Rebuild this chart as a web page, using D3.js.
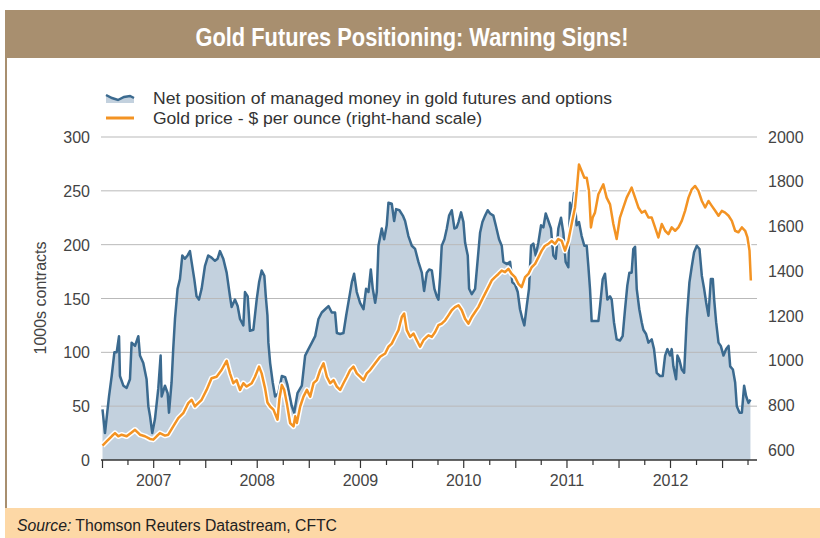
<!DOCTYPE html>
<html>
<head>
<meta charset="utf-8">
<script src="https://cdn.jsdelivr.net/npm/d3@7"></script>
<style>
  body { margin: 0; background: #fff; }
  svg { display: block; font-family: "Liberation Sans", Arial, sans-serif; }
</style>
</head>
<body>
<div id="chart"></div>
<script>
// net position of managed money, 1000s contracts (decimal year, value)
const netYears = [
  2007.000, 2007.024, 2007.063, 2007.089, 2007.115, 2007.137, 2007.160, 2007.169, 2007.202, 2007.234,
  2007.266, 2007.282, 2007.315, 2007.347, 2007.363, 2007.395, 2007.427, 2007.444, 2007.460, 2007.482,
  2007.508, 2007.540, 2007.563, 2007.573, 2007.605, 2007.631, 2007.644, 2007.669, 2007.685, 2007.702,
  2007.727, 2007.750, 2007.773, 2007.798, 2007.824, 2007.847, 2007.863, 2007.889, 2007.911, 2007.934,
  2007.960, 2007.992, 2008.024, 2008.056, 2008.089, 2008.115, 2008.137, 2008.169, 2008.202, 2008.234,
  2008.250, 2008.282, 2008.308, 2008.331, 2008.363, 2008.379, 2008.405, 2008.427, 2008.460, 2008.492,
  2008.515, 2008.540, 2008.566, 2008.580, 2008.596, 2008.605, 2008.622, 2008.647, 2008.670, 2008.702,
  2008.735, 2008.767, 2008.789, 2008.831, 2008.854, 2008.886, 2008.928, 2008.960, 2008.992, 2009.025,
  2009.057, 2009.089, 2009.121, 2009.154, 2009.186, 2009.218, 2009.250, 2009.267, 2009.299, 2009.331,
  2009.357, 2009.389, 2009.412, 2009.434, 2009.460, 2009.492, 2009.525, 2009.550, 2009.573, 2009.596,
  2009.615, 2009.638, 2009.654, 2009.670, 2009.702, 2009.725, 2009.750, 2009.767, 2009.799, 2009.822,
  2009.841, 2009.873, 2009.906, 2009.928, 2009.960, 2009.993, 2010.025, 2010.057, 2010.090, 2010.112,
  2010.138, 2010.161, 2010.187, 2010.212, 2010.235, 2010.251, 2010.267, 2010.283, 2010.309, 2010.332,
  2010.354, 2010.380, 2010.406, 2010.428, 2010.445, 2010.470, 2010.493, 2010.509, 2010.535, 2010.548,
  2010.574, 2010.606, 2010.632, 2010.654, 2010.677, 2010.703, 2010.728, 2010.751, 2010.783, 2010.806,
  2010.838, 2010.864, 2010.880, 2010.912, 2010.945, 2010.967, 2010.993, 2011.019, 2011.041, 2011.064,
  2011.083, 2011.106, 2011.128, 2011.148, 2011.170, 2011.193, 2011.219, 2011.245, 2011.267, 2011.290,
  2011.316, 2011.341, 2011.364, 2011.387, 2011.412, 2011.438, 2011.461, 2011.483, 2011.509, 2011.525,
  2011.541, 2011.564, 2011.590, 2011.612, 2011.638, 2011.664, 2011.687, 2011.703, 2011.719, 2011.735,
  2011.767, 2011.800, 2011.816, 2011.842, 2011.864, 2011.887, 2011.913, 2011.929, 2011.951, 2011.977,
  2012.009, 2012.035, 2012.058, 2012.080, 2012.100, 2012.122, 2012.138, 2012.155, 2012.171, 2012.196,
  2012.219, 2012.235, 2012.261, 2012.284, 2012.316, 2012.338, 2012.364, 2012.396, 2012.422, 2012.445,
  2012.467, 2012.493, 2012.509, 2012.525, 2012.551, 2012.564, 2012.583, 2012.606, 2012.629, 2012.654,
  2012.680, 2012.703, 2012.725, 2012.751, 2012.777, 2012.800, 2012.822, 2012.842, 2012.864, 2012.887,
  2012.906, 2012.919, 2012.938, 2012.961, 2012.983, 2013.009, 2013.035, 2013.058, 2013.074, 2013.100,
  2013.122, 2013.138, 2013.164, 2013.187, 2013.209, 2013.229, 2013.251, 2013.270
];
const netValues = [
  47, 25, 59, 78, 100, 100, 115, 78, 69, 67,
  75, 109, 106, 115, 97, 90, 75, 50, 41, 25,
  38, 66, 97, 59, 69, 62, 44, 72, 103, 131,
  159, 168, 190, 187, 190, 194, 184, 168, 152, 149,
  159, 180, 190, 188, 185, 187, 194, 187, 174, 152,
  142, 149, 143, 131, 125, 156, 152, 120, 121, 149,
  165, 176, 171, 152, 134, 109, 90, 72, 59, 62,
  78, 77, 70, 50, 44, 62, 69, 97, 103, 109,
  115, 131, 137, 140, 143, 137, 137, 118, 117, 118,
  134, 152, 165, 173, 156, 146, 140, 159, 156, 177,
  159, 146, 156, 199, 215, 205, 218, 239, 238, 222,
  233, 232, 227, 222, 208, 199, 196, 184, 174, 157,
  174, 177, 176, 159, 152, 149, 170, 199, 205, 215,
  227, 232, 215, 216, 221, 230, 221, 202, 190, 159,
  154, 159, 187, 211, 221, 227, 232, 229, 227, 218,
  205, 199, 184, 182, 184, 165, 163, 156, 140, 131,
  125, 143, 159, 199, 201, 190, 202, 218, 216, 229,
  222, 215, 190, 187, 215, 225, 211, 184, 179, 239,
  227, 248, 218, 221, 208, 199, 199, 180, 159, 129,
  129, 129, 143, 168, 173, 149, 152, 149, 128, 112,
  111, 115, 140, 162, 174, 174, 196, 198, 159, 140,
  128, 121, 117, 109, 112, 103, 81, 78, 78, 97,
  103, 97, 103, 87, 75, 97, 93, 84, 81, 131,
  165, 180, 193, 199, 196, 171, 159, 146, 134, 168,
  168, 149, 128, 109, 106, 97, 103, 106, 87, 84,
  72, 50, 44, 44, 69, 59, 53, 56
];

// gold price, $ per ounce (decimal year, value)
const goldYears = [
  2007.000, 2007.040, 2007.089, 2007.121, 2007.153, 2007.185, 2007.234, 2007.282, 2007.315, 2007.363,
  2007.411, 2007.460, 2007.492, 2007.524, 2007.556, 2007.605, 2007.637, 2007.685, 2007.734, 2007.782,
  2007.831, 2007.863, 2007.895, 2007.927, 2007.960, 2008.008, 2008.056, 2008.105, 2008.153, 2008.202,
  2008.234, 2008.266, 2008.298, 2008.331, 2008.363, 2008.395, 2008.444, 2008.476, 2008.515, 2008.540,
  2008.573, 2008.596, 2008.622, 2008.654, 2008.680, 2008.693, 2008.712, 2008.735, 2008.757, 2008.783,
  2008.815, 2008.848, 2008.864, 2008.880, 2008.912, 2008.944, 2008.977, 2009.009, 2009.041, 2009.073,
  2009.106, 2009.138, 2009.170, 2009.202, 2009.235, 2009.267, 2009.299, 2009.331, 2009.364, 2009.396,
  2009.428, 2009.460, 2009.493, 2009.525, 2009.557, 2009.589, 2009.638, 2009.686, 2009.735, 2009.767,
  2009.799, 2009.831, 2009.864, 2009.896, 2009.919, 2009.944, 2009.977, 2010.009, 2010.041, 2010.073,
  2010.106, 2010.138, 2010.154, 2010.187, 2010.219, 2010.251, 2010.283, 2010.316, 2010.348, 2010.380,
  2010.412, 2010.445, 2010.477, 2010.509, 2010.541, 2010.574, 2010.606, 2010.638, 2010.670, 2010.703,
  2010.735, 2010.767, 2010.799, 2010.832, 2010.864, 2010.896, 2010.928, 2010.961, 2010.993, 2011.025,
  2011.057, 2011.090, 2011.122, 2011.154, 2011.187, 2011.219, 2011.251, 2011.283, 2011.316, 2011.348,
  2011.380, 2011.412, 2011.445, 2011.477, 2011.509, 2011.541, 2011.574, 2011.590, 2011.612, 2011.638,
  2011.664, 2011.687, 2011.709, 2011.728, 2011.745, 2011.767, 2011.800, 2011.848, 2011.880, 2011.913,
  2011.945, 2011.977, 2012.009, 2012.042, 2012.074, 2012.122, 2012.155, 2012.187, 2012.219, 2012.251,
  2012.284, 2012.316, 2012.348, 2012.380, 2012.413, 2012.445, 2012.477, 2012.509, 2012.542, 2012.574,
  2012.606, 2012.638, 2012.671, 2012.703, 2012.735, 2012.767, 2012.800, 2012.832, 2012.864, 2012.896,
  2012.929, 2012.961, 2012.993, 2013.025, 2013.058, 2013.090, 2013.122, 2013.154, 2013.187, 2013.219,
  2013.241, 2013.261, 2013.274
];
const goldPrices = [
  619, 638, 661, 675, 661, 668, 661, 678, 690, 668,
  661, 649, 646, 661, 675, 664, 668, 705, 742, 764,
  809, 824, 794, 809, 824, 868, 920, 927, 957, 998,
  942, 898, 912, 868, 898, 883, 898, 927, 972, 942,
  875, 812, 794, 780, 750, 735, 830, 890, 870, 809,
  720, 705, 750, 720, 794, 838, 868, 838, 898, 912,
  957, 987, 927, 898, 912, 883, 868, 898, 927, 957,
  972, 942, 927, 912, 942, 957, 987, 1016, 1031, 1061,
  1075, 1105, 1135, 1194, 1209, 1135, 1105, 1120, 1090, 1061,
  1090, 1105, 1112, 1105, 1127, 1157, 1164, 1179, 1201, 1224,
  1238, 1246, 1224, 1186, 1164, 1194, 1216, 1238, 1268, 1298,
  1327, 1357, 1372, 1386, 1401, 1394, 1409, 1386, 1372, 1342,
  1327, 1372, 1386, 1416, 1431, 1460, 1490, 1512, 1520, 1534,
  1520, 1542, 1534, 1490, 1534, 1609, 1683, 1757, 1875, 1846,
  1816, 1816, 1757, 1594, 1638, 1660, 1742, 1786, 1727, 1697,
  1609, 1542, 1638, 1683, 1727, 1772, 1727, 1683, 1660, 1668,
  1638, 1638, 1594, 1549, 1609, 1579, 1564, 1594, 1579, 1594,
  1623, 1668, 1727, 1764, 1779, 1757, 1712, 1683, 1712, 1690,
  1668, 1646, 1668, 1660, 1646, 1623, 1579, 1572, 1594, 1579,
  1549, 1490, 1357
];

const leftTicks = [0, 50, 100, 150, 200, 250, 300];
const rightTicks = [600, 800, 1000, 1200, 1400, 1600, 1800, 2000];
const yearLabels = [2007, 2008, 2009, 2010, 2011, 2012];

const W = 820, H = 538;
const tan = "#a88f6f";
const blue = "#3b6a8f";
const fillBlue = "#c3d1de";
const orange = "#f39323";

function yearToDate(y) {
    const yr = Math.floor(y);
    const a = new Date(yr, 0, 1), b = new Date(yr + 1, 0, 1);
    return new Date(+a + (y - yr) * (b - a));
}

const net = netYears.map((y, i) => ({ date: yearToDate(y), value: netValues[i] }));
const gold = goldYears.map((y, i) => ({ date: yearToDate(y), value: goldPrices[i] }));

const svg = d3.select("#chart")
    .append("svg")
    .attr("width", W)
    .attr("height", H);

// frame: title bar, left rule, source band
svg.append("rect")
    .attr("x", 5).attr("y", 10)
    .attr("width", W - 5).attr("height", 48)
    .attr("fill", tan);

svg.append("line")
    .attr("x1", 6).attr("x2", 6)
    .attr("y1", 58).attr("y2", 508)
    .attr("stroke", tan)
    .attr("stroke-width", 2);

svg.append("rect")
    .attr("x", 5).attr("y", 508)
    .attr("width", W - 5).attr("height", 30)
    .attr("fill", "#fdd8a6");

svg.append("text")
    .attr("x", 412)
    .attr("y", 46)
    .attr("text-anchor", "middle")
    .attr("fill", "#fff")
    .attr("textLength", 433)
    .attr("lengthAdjust", "spacingAndGlyphs")
    .style("font-family", "'Liberation Sans Narrow', 'Liberation Sans', Arial, sans-serif")
    .style("font-size", "25px")
    .style("font-weight", "bold")
    .text("Gold Futures Positioning: Warning Signs!");

const source = svg.append("text")
    .attr("x", 17)
    .attr("y", 531)
    .attr("fill", "#222")
    .attr("textLength", 320)
    .attr("lengthAdjust", "spacingAndGlyphs")
    .style("font-size", "16px");
source.append("tspan").style("font-style", "italic").text("Source:");
source.append("tspan").text(" Thomson Reuters Datastream, CFTC");

// scales
const x = d3.scaleTime()
    .domain([new Date(2007, 0, 1), new Date(2013, 4, 1)])
    .range([102.5, 756.5]);
const yL = d3.scaleLinear().domain([0, 300]).range([460, 137]);
const yR = d3.scaleLinear().domain([555, 2000]).range([460, 136.5]);

// area under net position
const area = d3.area()
    .x(d => x(d.date))
    .y0(yL(0))
    .y1(d => yL(d.value));

svg.append("path")
    .datum(net)
    .attr("d", area)
    .attr("fill", fillBlue);

// gridlines
svg.append("g")
    .selectAll("line")
    .data(leftTicks.filter(d => d > 0))
    .join("line")
    .attr("x1", 101).attr("x2", 757)
    .attr("y1", d => yL(d)).attr("y2", d => yL(d))
    .attr("stroke", "#b9b9b9")
    .attr("stroke-width", 1);

const netLine = d3.line()
    .x(d => x(d.date))
    .y(d => yL(d.value));

svg.append("path")
    .datum(net)
    .attr("d", netLine)
    .attr("fill", "none")
    .attr("stroke", blue)
    .attr("stroke-width", 2.5)
    .attr("stroke-linejoin", "round");

const goldLine = d3.line()
    .x(d => x(d.date))
    .y(d => yR(d.value));

svg.append("path")
    .datum(gold)
    .attr("d", goldLine)
    .attr("fill", "none")
    .attr("stroke", "#fff")
    .attr("stroke-width", 5.5)
    .attr("stroke-linejoin", "round");

svg.append("path")
    .datum(gold)
    .attr("d", goldLine)
    .attr("fill", "none")
    .attr("stroke", orange)
    .attr("stroke-width", 2.5)
    .attr("stroke-linejoin", "round");

// x axis
const xAxis = svg.append("g");
xAxis.append("line")
    .attr("x1", 101).attr("x2", 757)
    .attr("y1", 460).attr("y2", 460)
    .attr("stroke", "#333")
    .attr("stroke-width", 1.5);

xAxis.selectAll("line.tick")
    .data(x.ticks(d3.timeMonth.every(3)))
    .join("line")
    .attr("class", "tick")
    .attr("x1", d => x(d)).attr("x2", d => x(d))
    .attr("y1", 460)
    .attr("y2", d => d.getMonth() % 6 === 0 ? 468 : 465)
    .attr("stroke", "#333")
    .attr("stroke-width", 1.2);

xAxis.selectAll("text")
    .data(yearLabels)
    .join("text")
    .attr("x", d => x(new Date(d, 6, 1)))
    .attr("y", 486)
    .attr("text-anchor", "middle")
    .attr("fill", "#444")
    .style("font-size", "16px")
    .text(d => d);

// y axes labels
svg.append("g")
    .selectAll("text")
    .data(leftTicks)
    .join("text")
    .attr("x", 90)
    .attr("y", d => yL(d) + 6)
    .attr("text-anchor", "end")
    .attr("fill", "#444")
    .style("font-size", "16px")
    .text(d => d);

svg.append("g")
    .selectAll("text")
    .data(rightTicks)
    .join("text")
    .attr("x", 768)
    .attr("y", d => yR(d) + 6)
    .attr("fill", "#444")
    .style("font-size", "16px")
    .text(d => d);

svg.append("text")
    .attr("transform", "rotate(-90)")
    .attr("x", -298)
    .attr("y", 46)
    .attr("text-anchor", "middle")
    .attr("fill", "#444")
    .style("font-size", "16px")
    .text("1000s contracts");

// legend
const legend = svg.append("g");
legend.append("path")
    .attr("d", "M106,95 L112,98 L118,100 L124,97 L130,96 L134,98 L134,103 L106,103 Z")
    .attr("fill", fillBlue);
legend.append("path")
    .attr("d", "M106,95 L112,98 L118,100 L124,97 L130,96 L134,98")
    .attr("fill", "none")
    .attr("stroke", blue)
    .attr("stroke-width", 2.5);
legend.append("line")
    .attr("x1", 106).attr("x2", 134)
    .attr("y1", 118).attr("y2", 118)
    .attr("stroke", orange)
    .attr("stroke-width", 3);

legend.append("text")
    .attr("x", 153).attr("y", 104)
    .attr("fill", "#333")
    .attr("textLength", 459)
    .attr("lengthAdjust", "spacingAndGlyphs")
    .style("font-size", "16px")
    .text("Net position of managed money in gold futures and options");
legend.append("text")
    .attr("x", 153).attr("y", 124)
    .attr("fill", "#333")
    .attr("textLength", 329)
    .attr("lengthAdjust", "spacingAndGlyphs")
    .style("font-size", "16px")
    .text("Gold price - $ per ounce (right-hand scale)");
</script>
</body>
</html>
